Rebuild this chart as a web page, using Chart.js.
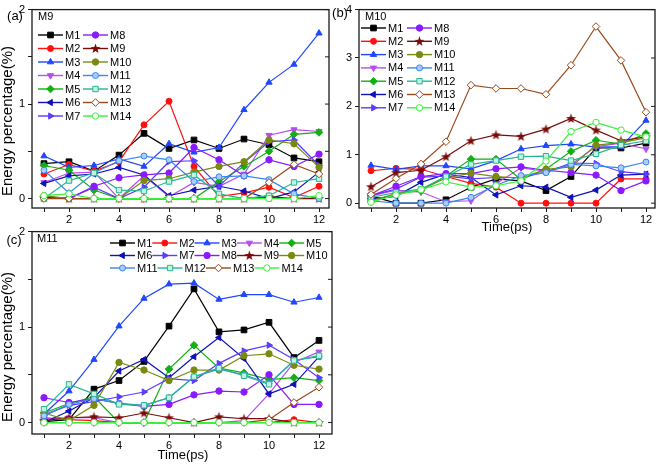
<!DOCTYPE html>
<html>
<head>
<meta charset="utf-8">
<script src="https://cdn.jsdelivr.net/npm/chart.js@4.4.1/dist/chart.umd.min.js"></script>
<style>
  html, body { margin: 0; padding: 0; background: #fff; }
  #wrap { position: relative; width: 661px; height: 464px; overflow: hidden; }
  canvas { position: absolute; }
</style>
</head>
<body>
<div id="wrap">
  <canvas id="chartB" width="331" height="236" style="left:330px;top:0px"></canvas>
  <canvas id="chartA" width="335" height="232" style="left:0px;top:0px"></canvas>
  <canvas id="chartC" width="340" height="242" style="left:0px;top:222px"></canvas>
</div>
<script>
/* DATA */

const times = [1, 2, 3, 4, 5, 6, 7, 8, 9, 10, 11, 12];
const seriesNames = ["M1", "M2", "M3", "M4", "M5", "M6", "M7",
                     "M8", "M9", "M10", "M11", "M12", "M13", "M14"];
const xTickValues = [1, 2, 3, 4, 5, 6, 7, 8, 9, 10, 11, 12];
const yTicksAC = [0, 0.5, 1, 1.5, 2];
const yTicksB = [0, 1, 2, 3, 4];

/* (a) M9 */
const a_M1  = [0.37, 0.39, 0.29, 0.46, 0.69, 0.53, 0.62, 0.53, 0.63, 0.57, 0.43, 0.39];
const a_M2  = [0.26, 0.36, 0.29, 0.39, 0.78, 1.03, 0.34, 0.02, 0.06, 0.12, 0.01, 0.13];
const a_M3  = [0.45, 0.33, 0.35, 0.42, 0.34, 0.58, 0.49, 0.54, 0.94, 1.23, 1.42, 1.75];
const a_M4  = [0.17, 0.27, 0.28, 0.00, 0.24, 0.02, 0.17, 0.13, 0.26, 0.67, 0.73, 0.71];
const a_M5  = [0.35, 0.30, 0.09, 0.00, 0.00, 0.00, 0.00, 0.18, 0.34, 0.50, 0.68, 0.70];
const a_M6  = [0.16, 0.24, 0.26, 0.33, 0.25, 0.03, 0.09, 0.13, 0.08, 0.00, 0.07, 0.28];
const a_M7  = [0.02, 0.00, 0.12, 0.00, 0.12, 0.39, 0.40, 0.13, 0.38, 0.60, 0.62, 0.35];
const a_M8  = [0.01, 0.00, 0.13, 0.22, 0.25, 0.27, 0.54, 0.41, 0.24, 0.41, 0.34, 0.47];
const a_M9  = [0.01, 0.00, 0.00, 0.00, 0.00, 0.00, 0.00, 0.00, 0.00, 0.02, 0.00, 0.00];
const a_M10 = [0.03, 0.00, 0.00, 0.00, 0.19, 0.21, 0.28, 0.34, 0.39, 0.62, 0.58, 0.33];
const a_M11 = [0.30, 0.06, 0.27, 0.40, 0.45, 0.41, 0.18, 0.23, 0.24, 0.20, 0.05, 0.00];
const a_M12 = [0.00, 0.19, 0.27, 0.09, 0.08, 0.18, 0.25, 0.05, 0.00, 0.03, 0.17, 0.21];
const a_M13 = [0.00, 0.00, 0.00, 0.00, 0.00, 0.00, 0.00, 0.00, 0.00, 0.17, 0.36, 0.26];
const a_M14 = [0.03, 0.05, 0.00, 0.00, 0.00, 0.00, 0.00, 0.00, 0.00, 0.00, 0.00, 0.03];

/* (b) M10 */
const b_M1  = [0.15, 0.00, 0.00, 0.07, 0.33, 0.50, 0.46, 0.26, 0.55, 1.14, 1.14, 1.24];
const b_M2  = [0.67, 0.72, 0.70, 0.55, 0.41, 0.33, 0.00, 0.00, 0.00, 0.00, 0.50, 0.50];
const b_M3  = [0.78, 0.70, 0.77, 0.77, 0.71, 0.88, 1.12, 1.19, 1.22, 1.16, 1.17, 1.71];
const b_M4  = [0.15, 0.27, 0.23, 0.03, 0.05, 0.40, 0.73, 0.66, 0.80, 1.17, 1.24, 1.12];
const b_M5  = [0.02, 0.19, 0.26, 0.56, 0.91, 0.91, 0.49, 0.70, 1.07, 1.30, 1.22, 1.44];
const b_M6  = [0.09, 0.14, 0.43, 0.60, 0.53, 0.17, 0.36, 0.33, 0.12, 0.27, 0.58, 0.60];
const b_M7  = [0.16, 0.29, 0.54, 0.56, 0.50, 0.53, 0.53, 0.64, 0.83, 0.82, 0.65, 0.60];
const b_M8  = [0.15, 0.35, 0.55, 0.61, 0.61, 0.71, 0.75, 0.68, 0.63, 0.58, 0.26, 0.46];
const b_M9  = [0.34, 0.63, 0.68, 0.96, 1.29, 1.41, 1.38, 1.53, 1.75, 1.51, 1.29, 1.37];
const b_M10 = [0.05, 0.20, 0.28, 0.52, 0.62, 0.55, 0.52, 0.70, 0.75, 1.20, 1.25, 1.35];
const b_M11 = [0.05, 0.00, 0.00, 0.00, 0.12, 0.37, 0.57, 0.63, 0.80, 0.77, 0.73, 0.85];
const b_M12 = [0.12, 0.22, 0.29, 0.55, 0.80, 0.88, 0.96, 0.97, 0.88, 1.02, 1.20, 1.29];
const b_M13 = [0.18, 0.51, 0.81, 1.27, 2.44, 2.37, 2.37, 2.25, 2.85, 3.65, 2.95, 1.88];
const b_M14 = [0.02, 0.17, 0.28, 0.44, 0.33, 0.36, 0.46, 0.87, 1.48, 1.67, 1.51, 1.37];

/* (c) M11 */
const c_M1  = [0.01, 0.03, 0.35, 0.44, 0.64, 1.01, 1.40, 0.95, 0.97, 1.05, 0.68, 0.86];
const c_M2  = [0.05, 0.03, 0.02, 0.00, 0.00, 0.00, 0.00, 0.00, 0.00, 0.00, 0.03, 0.00];
const c_M3  = [0.09, 0.33, 0.66, 1.01, 1.30, 1.45, 1.46, 1.29, 1.34, 1.34, 1.26, 1.31];
const c_M4  = [0.04, 0.05, 0.05, 0.00, 0.00, 0.00, 0.00, 0.00, 0.02, 0.30, 0.63, 0.74];
const c_M5  = [0.10, 0.20, 0.27, 0.00, 0.00, 0.56, 0.81, 0.57, 0.52, 0.45, 0.47, 0.44];
const c_M6  = [0.00, 0.12, 0.26, 0.54, 0.66, 0.47, 0.69, 0.89, 0.67, 0.30, 0.40, 0.69];
const c_M7  = [0.08, 0.18, 0.22, 0.27, 0.32, 0.46, 0.44, 0.62, 0.75, 0.81, 0.66, 0.47];
const c_M8  = [0.26, 0.21, 0.25, 0.20, 0.17, 0.19, 0.29, 0.33, 0.32, 0.50, 0.19, 0.19];
const c_M9  = [0.02, 0.05, 0.06, 0.05, 0.10, 0.05, 0.00, 0.06, 0.04, 0.04, 0.00, 0.00];
const c_M10 = [0.10, 0.02, 0.18, 0.63, 0.55, 0.44, 0.55, 0.55, 0.70, 0.72, 0.60, 0.56];
const c_M11 = [0.07, 0.19, 0.25, 0.20, 0.18, 0.26, 0.48, 0.56, 0.50, 0.41, 0.65, 0.69];
const c_M12 = [0.14, 0.40, 0.30, 0.19, 0.18, 0.26, 0.48, 0.57, 0.49, 0.40, 0.65, 0.70];
const c_M13 = [0.00, 0.00, 0.00, 0.00, 0.00, 0.00, 0.00, 0.00, 0.00, 0.03, 0.21, 0.37];
const c_M14 = [0.00, 0.00, 0.00, 0.00, 0.00, 0.00, 0.00, 0.00, 0.00, 0.00, 0.00, 0.00];

/* STYLES */

const FONT = '"Liberation Sans", Arial, sans-serif';
Chart.defaults.font.family = FONT;

function makeStar(color) {
  const c = document.createElement("canvas");
  c.width = 11;
  c.height = 11;
  const g = c.getContext("2d");
  g.beginPath();
  for (let k = 0; k < 10; k++) {
    const r = k % 2 ? 2.1 : 5.2;
    const ang = -Math.PI / 2 + k * Math.PI / 5;
    g.lineTo(5.5 + r * Math.cos(ang), 5.8 + r * Math.sin(ang));
  }
  g.closePath();
  g.fillStyle = color;
  g.fill();
  return c;
}

const starImg = makeStar("#7a0a0a");

const seriesStyle = [
  { color: "#000000", fill: "#000000", shape: "rect",     radius: 4,   rot: 0 },
  { color: "#ff1010", fill: "#ff1010", shape: "circle",   radius: 3,   rot: 0 },
  { color: "#1f47ff", fill: "#1f47ff", shape: "triangle", radius: 3.6, rot: 0 },
  { color: "#b84cf0", fill: "#b84cf0", shape: "triangle", radius: 3.6, rot: 180 },
  { color: "#12b012", fill: "#12b012", shape: "rectRot",  radius: 3.8, rot: 0 },
  { color: "#1010b8", fill: "#1010b8", shape: "triangle", radius: 3.6, rot: -90 },
  { color: "#5a3cff", fill: "#5a3cff", shape: "triangle", radius: 3.6, rot: 90 },
  { color: "#8a1aff", fill: "#8a1aff", shape: "circle",   radius: 3.2, rot: 0 },
  { color: "#7a0a0a", fill: "#7a0a0a", shape: "star",     radius: 4,   rot: 0 },
  { color: "#7a8a10", fill: "#7a8a10", shape: "circle",   radius: 3.2, rot: 0 },
  { color: "#3a86f0", fill: "#a9cdfb", shape: "circle",   radius: 3,   rot: 0 },
  { color: "#22b890", fill: "#c8f0e2", shape: "rect",     radius: 3.8, rot: 0 },
  { color: "#9a4a1a", fill: "#ffffff", shape: "rectRot",  radius: 3.8, rot: 0 },
  { color: "#3cf03c", fill: "#ffffff", shape: "circle",   radius: 3.2, rot: 0 }
];

function buildDatasets(rows) {
  return rows.map((vals, i) => {
    const s = seriesStyle[i];
    return {
      label: seriesNames[i],
      data: times.map((t, k) => ({ x: t, y: vals[k] })),
      borderColor: s.color,
      backgroundColor: s.fill,
      borderWidth: 1.2,
      pointStyle: s.shape === "star" ? starImg : s.shape,
      pointRotation: s.rot,
      pointRadius: s.radius,
      pointBackgroundColor: s.fill,
      pointBorderColor: s.color,
      pointBorderWidth: 1,
      tension: 0,
      order: rows.length - i
    };
  });
}

/* PLUGINS */

const framePlugin = {
  id: "frame",
  afterDatasetsDraw(chart) {
    const { ctx, chartArea: a, scales } = chart;
    ctx.save();
    ctx.strokeStyle = "#1a1a1a";
    ctx.lineWidth = 1.3;
    ctx.strokeRect(a.left, a.top, a.right - a.left, a.bottom - a.top);
    ctx.lineWidth = 1;
    scales.y.ticks.forEach(t => {
      const py = scales.y.getPixelForValue(t.value);
      ctx.beginPath();
      ctx.moveTo(a.right, py);
      ctx.lineTo(a.right - 4, py);
      ctx.stroke();
    });
    ctx.restore();
  }
};

const notesPlugin = {
  id: "notes",
  afterDraw(chart, args, opts) {
    const ctx = chart.ctx;
    (opts.items || []).forEach(n => {
      ctx.save();
      ctx.font = n.font;
      ctx.fillStyle = "#000";
      ctx.textAlign = n.align || "center";
      ctx.textBaseline = "middle";
      ctx.translate(n.x, n.y);
      if (n.rot) ctx.rotate(n.rot * Math.PI / 180);
      ctx.fillText(n.text, 0, 0);
      ctx.restore();
    });
  }
};

const boxLegendPlugin = {
  id: "boxLegend",
  afterDraw(chart, args, opts) {
    const ctx = chart.ctx;
    ctx.save();
    ctx.font = "11px " + FONT;
    ctx.textBaseline = "middle";
    ctx.textAlign = "left";
    let fx = opts.x;
    chart.data.datasets.forEach((ds, i) => {
      let lx, ly;
      if (opts.mode === "grid") {
        lx = opts.x + Math.floor(i / opts.rows) * opts.colW;
        ly = opts.y + (i % opts.rows) * opts.rowH;
      } else {
        if (i % opts.perRow === 0) fx = opts.x;
        lx = fx;
        ly = opts.y + Math.floor(i / opts.perRow) * opts.rowH;
        fx = lx + opts.lineLen + 2 + ctx.measureText(ds.label).width;
      }
      ctx.strokeStyle = ds.borderColor;
      ctx.lineWidth = 1.4;
      ctx.beginPath();
      ctx.moveTo(lx, ly);
      ctx.lineTo(lx + opts.lineLen, ly);
      ctx.stroke();
      ctx.fillStyle = ds.pointBackgroundColor;
      ctx.strokeStyle = ds.pointBorderColor;
      ctx.lineWidth = 1;
      Chart.helpers.drawPoint(ctx, {
        pointStyle: ds.pointStyle,
        rotation: ds.pointRotation,
        radius: ds.pointRadius,
        borderWidth: 1
      }, lx + opts.lineLen / 2, ly);
      ctx.fillStyle = "#000";
      ctx.fillText(ds.label, lx + opts.lineLen + 2, ly + 0.5);
    });
    ctx.restore();
  }
};

/* SCALES */

function xScale(min, max, height) {
  return {
    type: "linear",
    min: min,
    max: max,
    afterBuildTicks: s => { s.ticks = xTickValues.map(v => ({ value: v })); },
    afterFit: s => { s.height = height; },
    grid: { drawOnChartArea: false, drawTicks: true, tickLength: 4, color: "#1a1a1a" },
    border: { display: false },
    ticks: {
      padding: 1,
      color: "#000",
      maxRotation: 0,
      autoSkip: false,
      font: { size: 11 },
      callback: v => (v % 2 === 0 ? String(v) : "")
    }
  };
}

function yScale(min, max, tickVals, width) {
  return {
    type: "linear",
    min: min,
    max: max,
    afterBuildTicks: s => { s.ticks = tickVals.map(v => ({ value: v })); },
    afterFit: s => { s.width = width; },
    grid: { drawOnChartArea: false, drawTicks: true, tickLength: 4, color: "#1a1a1a" },
    border: { display: false },
    ticks: {
      padding: 3,
      color: "#000",
      autoSkip: false,
      font: { size: 11 },
      callback: v => (Number.isInteger(v) ? String(v) : "")
    }
  };
}

/* CREATE CHART */

function createChart(id, rows, cfg) {
  return new Chart(document.getElementById(id), {
    type: "line",
    data: { datasets: buildDatasets(rows) },
    options: {
      responsive: false,
      animation: false,
      devicePixelRatio: 1,
      layout: { padding: cfg.padding },
      scales: {
        x: xScale(cfg.xMin, cfg.xMax, cfg.xHeight),
        y: yScale(cfg.yMin, cfg.yMax, cfg.yTicks, cfg.yWidth)
      },
      plugins: {
        legend: { display: false },
        tooltip: { enabled: false },
        notes: { items: cfg.notes },
        boxLegend: cfg.legend
      }
    },
    plugins: [framePlugin, notesPlugin, boxLegendPlugin]
  });
}

const chartA = createChart("chartA",
  [a_M1, a_M2, a_M3, a_M4, a_M5, a_M6, a_M7, a_M8, a_M9, a_M10, a_M11, a_M12, a_M13, a_M14],
  {
    padding: { left: 0, top: 6, right: 6, bottom: 2 },
    xMin: 0.52, xMax: 12.4, xHeight: 22,
    yMin: -0.1, yMax: 2, yTicks: yTicksAC, yWidth: 32,
    legend: { mode: "grid", x: 38, y: 35, rows: 7, colW: 45, rowH: 13.5, lineLen: 25 },
    notes: [
      { text: "(a)", x: 15, y: 16, font: "13px " + FONT },
      { text: "M9", x: 38, y: 17, align: "left", font: "11px " + FONT },
      { text: "Energy percentage(%)", x: 8, y: 121, rot: -90, font: "15px " + FONT }
    ]
  });

const chartB = createChart("chartB",
  [b_M1, b_M2, b_M3, b_M4, b_M5, b_M6, b_M7, b_M8, b_M9, b_M10, b_M11, b_M12, b_M13, b_M14],
  {
    padding: { left: 0, top: 5, right: 6, bottom: 6 },
    xMin: 0.52, xMax: 12.36, xHeight: 22,
    yMin: -0.1, yMax: 4, yTicks: yTicksB, yWidth: 29,
    legend: { mode: "grid", x: 31, y: 28, rows: 7, colW: 46, rowH: 13.3, lineLen: 25 },
    notes: [
      { text: "(b)", x: 10, y: 13, font: "13px " + FONT },
      { text: "M10", x: 35, y: 17, align: "left", font: "11px " + FONT },
      { text: "Time(ps)", x: 177, y: 227, font: "13px " + FONT }
    ]
  });

const chartC = createChart("chartC",
  [c_M1, c_M2, c_M3, c_M4, c_M5, c_M6, c_M7, c_M8, c_M9, c_M10, c_M11, c_M12, c_M13, c_M14],
  {
    padding: { left: 0, top: 7, right: 8, bottom: 8 },
    xMin: 0.52, xMax: 12.52, xHeight: 22,
    yMin: -0.12, yMax: 2, yTicks: yTicksAC, yWidth: 32,
    legend: { mode: "flow", x: 110, y: 21, perRow: 5, rowH: 12.5, lineLen: 25 },
    notes: [
      { text: "(c)", x: 14, y: 18, font: "13px " + FONT },
      { text: "M11", x: 37, y: 17, align: "left", font: "11px " + FONT },
      { text: "Energy percentage(%)", x: 8, y: 125, rot: -90, font: "15px " + FONT },
      { text: "Time(ps)", x: 183, y: 233, font: "13px " + FONT }
    ]
  });
</script>
</body>
</html>
